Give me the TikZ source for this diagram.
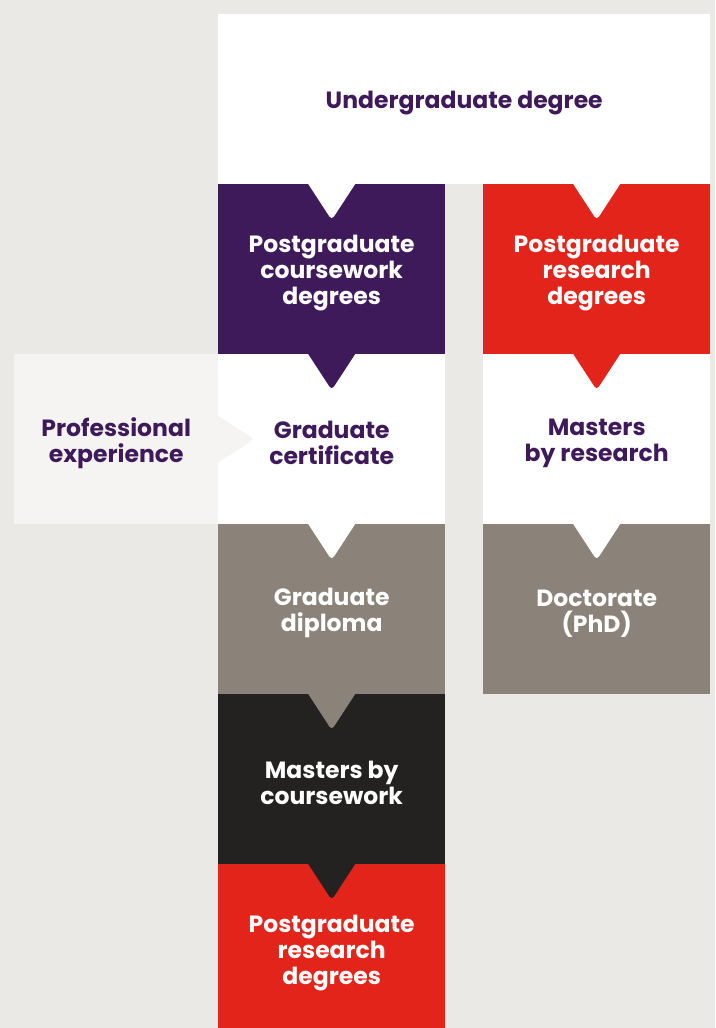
\documentclass[tikz,border=0pt]{standalone}
\usepackage{fontspec}
\setmainfont{Poppins}
\definecolor{bg}{HTML}{EBE9E5}
\definecolor{pebg}{HTML}{F5F4F2}
\definecolor{upurple}{HTML}{3F1A5A}
\definecolor{ured}{HTML}{E3241A}
\definecolor{ugray}{HTML}{8B8279}
\definecolor{ublack}{HTML}{232220}
\tikzset{
  box/.style={rectangle, inner sep=0pt, minimum width=227pt, minimum height=170pt,
    anchor=north west},
  lbl/.style={inner sep=0pt, yshift=-4pt, align=center, font=\bfseries\fontsize{23.5}{26}\selectfont},
  darkbox/.style={box, fill=#1, label={[lbl, text=white]center:\boxtext}},
  lightbox/.style={box, fill=#1, label={[lbl, text=upurple]center:\boxtext}},
  notchdown/.pic={\fill[pic actions] (-23.5,-1) -- (-23.5,0) [rounded corners=4pt] -- (0,36) [sharp corners] -- (23.5,0) -- (23.5,-1) -- cycle;},
  notchright/.pic={\fill[pic actions] (-1,-23.5) -- (0,-23.5) [rounded corners=4pt] -- (36,0) [sharp corners] -- (0,23.5) -- (-1,23.5) -- cycle;}
}
\begin{document}
\begin{tikzpicture}[x=1pt,y=-1pt]
\useasboundingbox (0,0) rectangle (715,1028);
\clip (0,0) rectangle (715,1028);
\fill[bg] (0,0) rectangle (715,1028);
% boxes
\def\boxtext{Undergraduate degree}
\node[lightbox=white, minimum width=492pt] (ug) at (218,14) {};
\def\boxtext{Postgraduate\\coursework\\degrees}
\node[darkbox=upurple] (pc) at (218,184) {};
\def\boxtext{Postgraduate\\research\\degrees}
\node[darkbox=ured] (pr) at (483,184) {};
\def\boxtext{Graduate\\certificate}
\node[lightbox=white] (gc) at (218,354) {};
\def\boxtext{Masters\\by research}
\node[lightbox=white] (mr) at (483,354) {};
\def\boxtext{Professional\\experience}
\node[lightbox=pebg, minimum width=204pt] (pe) at (14,354) {};
\def\boxtext{Graduate\\diploma}
\node[darkbox=ugray] (gd) at (218,524) {};
\def\boxtext{Doctorate\\(PhD)}
\node[darkbox=ugray] (dr) at (483,524) {};
\def\boxtext{Masters by\\coursework}
\node[darkbox=ublack] (mc) at (218,694) {};
\def\boxtext{Postgraduate\\research\\degrees}
\node[darkbox=ured] (rd) at (218,864) {};
% notch connectors
\pic[fill=white] at (pc.north) {notchdown};
\pic[fill=white] at (pr.north) {notchdown};
\pic[fill=upurple] at (gc.north) {notchdown};
\pic[fill=ured] at (mr.north) {notchdown};
\pic[fill=white] at (gd.north) {notchdown};
\pic[fill=white] at (dr.north) {notchdown};
\pic[fill=ugray] at (mc.north) {notchdown};
\pic[fill=ublack] at (rd.north) {notchdown};
\pic[fill=pebg] at (gc.west) {notchright};
\end{tikzpicture}
\end{document}
